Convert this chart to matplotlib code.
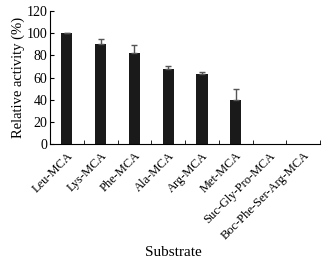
import matplotlib
matplotlib.use("Agg")
import matplotlib.pyplot as plt
import numpy as np

plt.rcParams['font.family'] = ['Liberation Serif', 'DejaVu Serif']

substrates = ['Leu-MCA', 'Lys-MCA', 'Phe-MCA', 'Ala-MCA', 'Arg-MCA', 'Met-MCA',
              'Suc-Gly-Pro-MCA', 'Boc-Phe-Ser-Arg-MCA']
activity = [100, 90, 82, 68, 63, 40, 0, 0]
errors = [0.5, 5, 7, 2.5, 2, 10, 0, 0]

fig = plt.figure(figsize=(3.29, 2.58), dpi=100)
ax = fig.add_axes([0.152, 0.442, 0.821, 0.515])

x = np.arange(len(substrates))
ax.bar(x, activity, width=0.33, color='#1a1a1a')
ax.errorbar(x[:6], activity[:6], yerr=[np.zeros(6), errors[:6]], fmt='none',
            ecolor='#555555', elinewidth=1, capsize=2.5, capthick=1)

ax.set_xlim(-0.5, len(substrates) - 0.5)
ax.set_ylim(0, 120)
ax.set_yticks(range(0, 121, 20))
ax.set_xticks(x)
ax.set_xticklabels(substrates, rotation=45, ha='right', rotation_mode='anchor', fontsize=9)
ax.set_xticks(np.arange(0.5, len(substrates), 1), minor=True)
ax.tick_params(axis='x', which='major', length=0, pad=4)
ax.tick_params(axis='x', which='minor', direction='in', length=3)
ax.tick_params(axis='y', direction='in', length=3, labelsize=10, pad=2)
ax.spines['top'].set_visible(False)
ax.spines['right'].set_visible(False)
ax.set_ylabel('Relative activity (%)', fontsize=10.5, labelpad=1)
ax.set_xlabel('Substrate', fontsize=11)
ax.xaxis.set_label_coords(0.455, -0.77)

fig.savefig('out.png', dpi=100)
